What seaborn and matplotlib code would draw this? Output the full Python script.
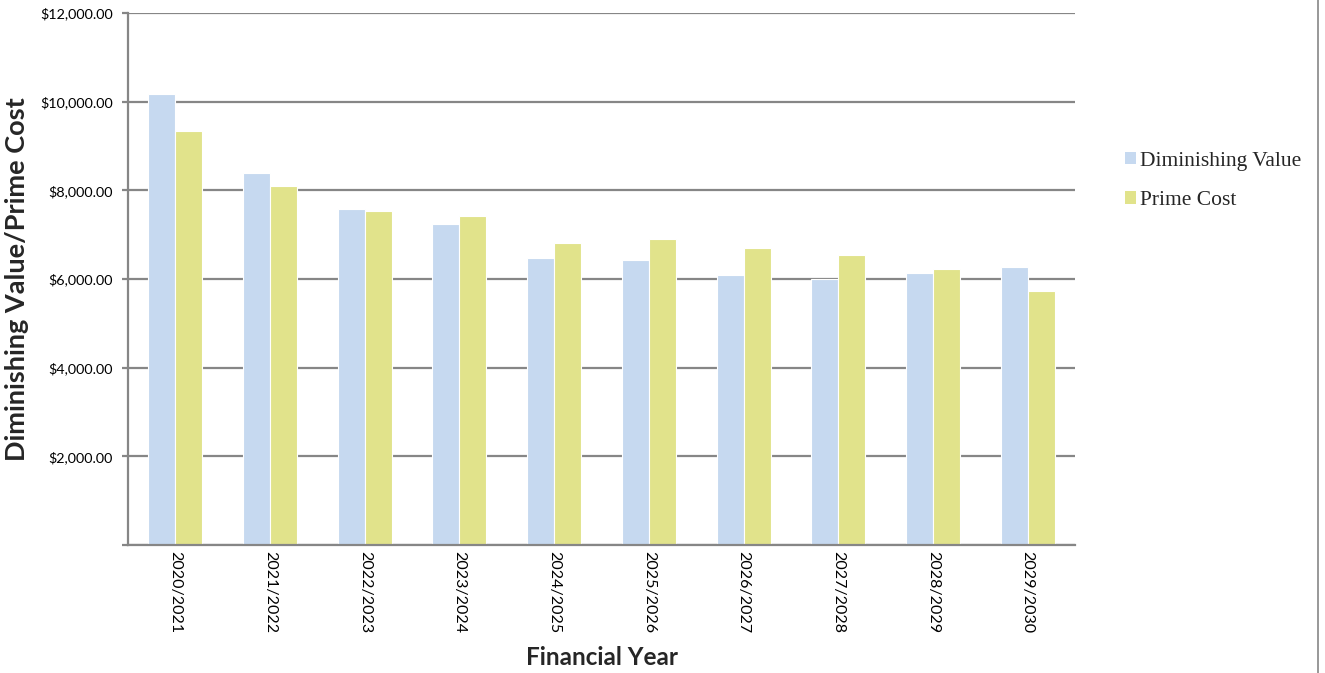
import matplotlib
matplotlib.use("Agg")
import matplotlib.pyplot as plt
import seaborn as sns
import pandas as pd
from matplotlib.ticker import FuncFormatter, FixedLocator
from matplotlib.lines import Line2D
from matplotlib.patches import Patch

years = ["2020/2021", "2021/2022", "2022/2023", "2023/2024", "2024/2025",
         "2025/2026", "2026/2027", "2027/2028", "2028/2029", "2029/2030"]
diminishing_value = [10170, 8390, 7585, 7250, 6475, 6420, 6090, 6000, 6130, 6280]
prime_cost = [9335, 8105, 7545, 7420, 6820, 6910, 6690, 6550, 6235, 5735]
series_names = ["Diminishing Value", "Prime Cost"]
y_ticks = [0, 2000, 4000, 6000, 8000, 10000, 12000]
colors = ["#C6D9F0", "#E1E38B"]

df = pd.DataFrame({
    "Financial Year": years + years,
    "Value": diminishing_value + prime_cost,
    "Series": [series_names[0]] * len(years) + [series_names[1]] * len(years),
})

sns.set_theme(style="white")
plt.rcParams['font.family'] = ['Lato', 'DejaVu Sans']

W, H = 1325, 673
fig = plt.figure(figsize=(W / 100, H / 100), dpi=100)
ax = fig.add_axes([128 / W, 1 - 545 / H, (1075 - 128) / W, (545 - 13) / H])

sns.barplot(data=df, x="Financial Year", y="Value", hue="Series",
            palette=colors, width=0.57, saturation=1, ax=ax,
            edgecolor="white", linewidth=0.8, legend=False, errorbar=None)

ax.set_ylim(0, 12000)
ax.set_xlim(-0.5, len(years) - 0.5)
ax.yaxis.set_major_locator(FixedLocator(y_ticks))
ax.yaxis.set_major_formatter(FuncFormatter(lambda v, p: "" if v == 0 else f"${v:,.2f}"))
ax.set_axisbelow(True)
ax.yaxis.grid(True, color="#868686", linewidth=1.6)
ax.xaxis.grid(False)

for s in ["top", "right"]:
    ax.spines[s].set_visible(False)
for s in ["left", "bottom"]:
    ax.spines[s].set_color("#868686")
    ax.spines[s].set_linewidth(1.6)

ax.tick_params(axis="y", which="major", left=True, length=4, width=1.6,
               color="#868686", labelsize=10.4, labelcolor="black", pad=7)
ax.tick_params(axis="x", which="major", bottom=False, labelsize=11.5,
               labelcolor="black", pad=-1.5)
for lbl in ax.get_xticklabels():
    lbl.set_rotation(270)
    lbl.set_va("top")
    lbl.set_ha("center")

ax.set_xlabel("Financial Year", fontsize=17.5, fontweight="bold", labelpad=9)
ax.set_ylabel("Diminishing Value/Prime Cost", fontsize=19.5, fontweight="bold", labelpad=8)

handles = [Patch(facecolor=c, edgecolor="none") for c in colors]
fig.legend(handles, series_names, loc="center left",
           bbox_to_anchor=(1106 / W, 1 - 181 / H), frameon=False,
           prop={"family": "Liberation Serif", "size": 15.5},
           handlelength=0.5, handleheight=0.5, handletextpad=0.2,
           labelspacing=0.95)

fig.add_artist(Line2D([1318 / W, 1318 / W], [0, 1], color="#868686",
                      linewidth=1.2, transform=fig.transFigure))

fig.savefig("out.png", dpi=100, facecolor="white")
